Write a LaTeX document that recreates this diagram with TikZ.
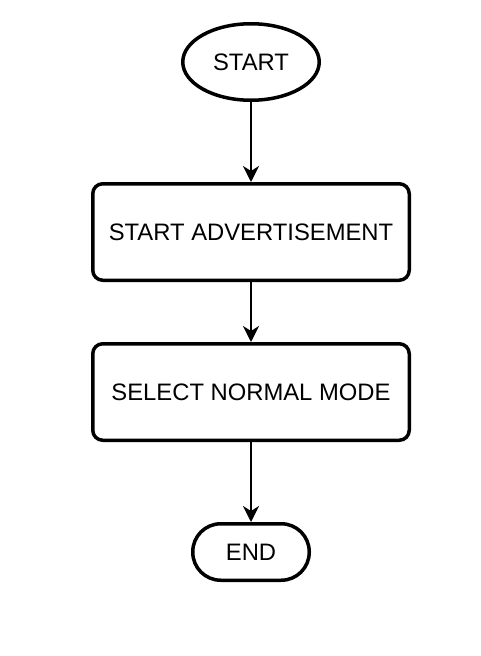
\documentclass[tikz,border=0pt]{standalone}
\usepackage{fontspec}
\setmainfont{Liberation Sans}
\usetikzlibrary{shapes.geometric,arrows.meta}
\begin{document}
\begin{tikzpicture}[x=1pt,y=-1pt,
  box/.style={draw, line width=3.5pt, rounded corners=10pt, minimum width=316.5pt, minimum height=96.5pt, inner sep=0pt, font=\fontsize{23.8}{28}\selectfont},
  term/.style={draw, line width=3.5pt, inner sep=0pt, font=\fontsize{23.8}{28}\selectfont},
  conn/.style={line width=2.4pt, -{Stealth[length=16pt,width=16pt,inset=5pt]}}]
\useasboundingbox (0,0) rectangle (480,656);
\node[term, ellipse, minimum width=136.5pt, minimum height=76.5pt] (start) at (251,62) {START};
\node[box] (adv) at (251,232) {START ADVERTISEMENT};
\node[box] (sel) at (251,392) {SELECT NORMAL MODE};
\node[term, rounded corners=28pt, minimum width=116.5pt, minimum height=56.5pt] (end) at (251,552) {END};
\draw[conn] (start) -- (adv);
\draw[conn] (adv) -- (sel);
\draw[conn] (sel) -- (end);
\end{tikzpicture}
\end{document}
